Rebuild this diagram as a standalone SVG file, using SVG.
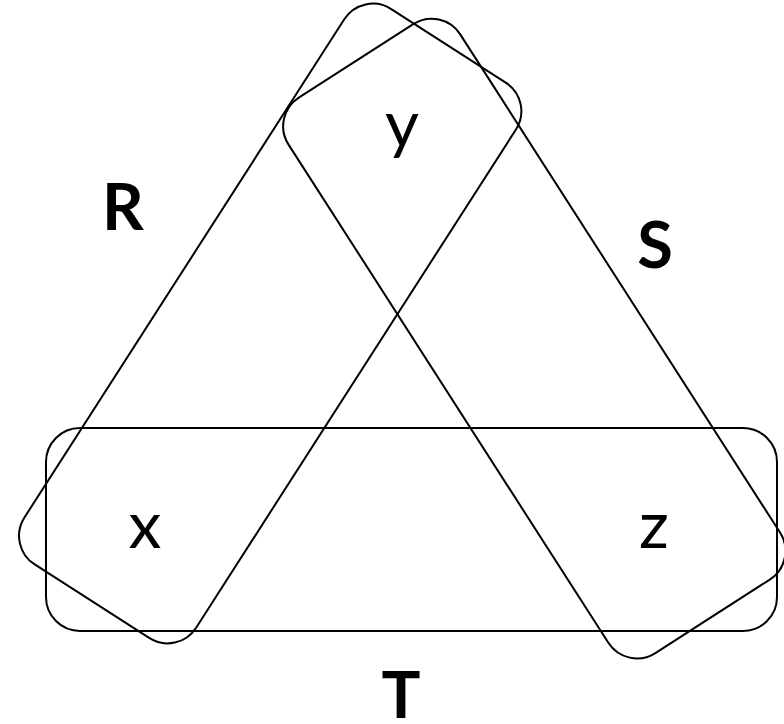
<svg xmlns="http://www.w3.org/2000/svg" width="784" height="724" viewBox="0 0 784 724">
<style>
.set{fill:none;stroke:#000;stroke-width:2}
.big{font-family:Lato,"Open Sans","Liberation Sans",sans-serif;font-weight:bold;font-size:65px;fill:#000;text-anchor:middle}
.small{font-family:Lato,"Open Sans","Liberation Sans",sans-serif;font-weight:normal;font-size:66px;fill:#000;text-anchor:middle}
</style>
<rect width="784" height="724" fill="#fff"/>
<g id="R">
<rect class="set" x="-59.8" y="221.5" width="660" height="204" rx="34" ry="34" transform="rotate(-57.3 270.2 323.5)"/>
<text class="big" x="123" y="230">R</text>
</g>
<g id="S">
<rect class="set" x="204.3" y="236.6" width="660" height="204" rx="34" ry="34" transform="rotate(57.3 534.3 338.6)"/>
<text class="big" x="655" y="268">S</text>
</g>
<g id="T">
<rect class="set" x="46" y="428" width="731" height="203" rx="34" ry="34"/>
<text class="big" x="401" y="718">T</text>
</g>
<g id="labels">
<text class="small" x="402" y="147">y</text>
<text class="small" x="145" y="548">x</text>
<text class="small" x="654" y="548">z</text>
</g>
<g id="connectors"/>
</svg>
